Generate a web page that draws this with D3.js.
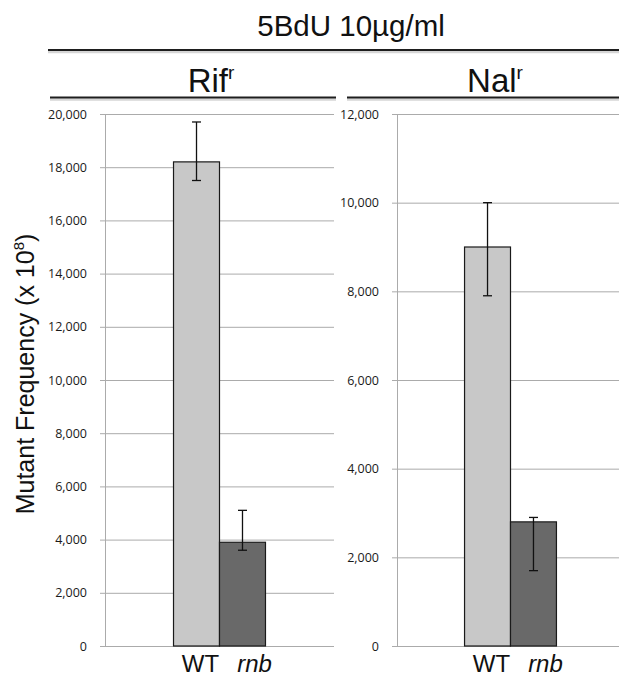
<!DOCTYPE html>
<html>
<head>
<meta charset="utf-8">
<script src="https://cdn.jsdelivr.net/npm/d3@7"></script>
<style>
  html, body { margin: 0; padding: 0; background: #fff; }
  svg { display: block; }
</style>
</head>
<body>
<svg id="chart" width="619" height="676"></svg>
<script>
// ---------- data ----------
const categories = ["WT", "rnb"];
const rifValues = [18200, 3900];
const rifErrLow = [17500, 3600];
const rifErrHigh = [19700, 5100];
const nalValues = [9000, 2800];
const nalErrLow = [7900, 1700];
const nalErrHigh = [10000, 2900];
const rifTicks = [0, 2000, 4000, 6000, 8000, 10000, 12000, 14000, 16000, 18000, 20000];
const nalTicks = [0, 2000, 4000, 6000, 8000, 10000, 12000];

const svg = d3.select("#chart");
const W = 619, H = 676;

const barFill = { WT: "#c8c8c8", rnb: "#696969" };
const gridColor = "#ababab";
const fmt = d3.format(",");

// ---------- headers ----------
svg.append("text")
  .attr("x", 351).attr("y", 36)
  .attr("text-anchor", "middle")
  .attr("font-family", "Liberation Sans, Arial, sans-serif")
  .attr("font-size", 29.5)
  .attr("fill", "#111")
  .text("5BdU 10µg/ml");

// header rule with a soft shadow underneath
const rule = (x1, x2, y) => {
  svg.append("line")
    .attr("x1", x1).attr("x2", x2).attr("y1", y + 2).attr("y2", y + 2)
    .attr("stroke", "#d6d6d6").attr("stroke-width", 2.5);
  svg.append("line")
    .attr("x1", x1).attr("x2", x2).attr("y1", y).attr("y2", y)
    .attr("stroke", "#1e1e1e").attr("stroke-width", 2);
};

rule(48, 619, 50);
rule(50, 336, 97.5);
rule(347, 619, 97.5);

// ---------- y-axis title ----------
const yt = svg.append("text")
  .attr("transform", "translate(34,374) rotate(-90)")
  .attr("text-anchor", "middle")
  .attr("font-family", "Liberation Sans, Arial, sans-serif")
  .attr("font-size", 25)
  .attr("fill", "#111");
yt.append("tspan").text("Mutant Frequency (x 10");
yt.append("tspan").attr("font-size", 15).attr("dy", -10).text("8");
yt.append("tspan").attr("dy", 10).text(")");

// ---------- panels ----------
const panels = [
  { name: "Rif", values: rifValues, lo: rifErrLow, hi: rifErrHigh, ticks: rifTicks,
    x0: 105, x1: 334, pad: 1.49, titleX: 211 },
  { name: "Nal", values: nalValues, lo: nalErrLow, hi: nalErrHigh, ticks: nalTicks,
    x0: 397, x1: 624, pad: 1.47, titleX: 495 }
];

const yTop = 114, yBottom = 646;

panels.forEach(p => {
  const g = svg.append("g");

  // panel header  (name + superscript r)
  const t = g.append("text")
    .attr("x", p.titleX).attr("y", 91.5)
    .attr("text-anchor", "middle")
    .attr("font-family", "Liberation Sans, Arial, sans-serif")
    .attr("font-size", 33)
    .attr("fill", "#111");
  t.append("tspan").text(p.name);
  t.append("tspan").attr("font-size", 19).attr("dy", -13).text("r");

  const y = d3.scaleLinear()
    .domain([0, d3.max(p.ticks)])
    .range([yBottom, yTop]);

  const x = d3.scaleBand()
    .domain(categories)
    .range([p.x0, p.x1])
    .paddingInner(0)
    .paddingOuter(p.pad);

  // gridlines
  g.selectAll("line.grid")
    .data(p.ticks)
    .join("line")
    .attr("class", "grid")
    .attr("x1", p.x0 - 5).attr("x2", Math.min(p.x1, W))
    .attr("y1", d => y(d) + 0.5).attr("y2", d => y(d) + 0.5)
    .attr("stroke", gridColor).attr("stroke-width", 1);

  // axis line
  g.append("line")
    .attr("x1", p.x0 + 0.5).attr("x2", p.x0 + 0.5)
    .attr("y1", yTop).attr("y2", yBottom + 0.5)
    .attr("stroke", gridColor).attr("stroke-width", 1);

  // tick labels
  g.selectAll("text.tick")
    .data(p.ticks)
    .join("text")
    .attr("class", "tick")
    .attr("x", p.x0 - 18)
    .attr("y", d => y(d) + 4.5)
    .attr("text-anchor", "end")
    .attr("font-family", "Open Sans, sans-serif")
    .attr("font-size", 12.5)
    .attr("fill", "#1a1a1a")
    .text(d => fmt(d));

  // bars
  g.selectAll("rect.bar")
    .data(categories)
    .join("rect")
    .attr("class", "bar")
    .attr("x", d => x(d))
    .attr("width", x.bandwidth())
    .attr("y", (d, i) => y(p.values[i]))
    .attr("height", (d, i) => yBottom - y(p.values[i]))
    .attr("fill", d => barFill[d])
    .attr("stroke", "#1a1a1a")
    .attr("stroke-width", 1.2);

  // error bars
  const cx = d => x(d) + x.bandwidth() / 2;
  const eb = g.selectAll("g.err")
    .data(categories)
    .join("g")
    .attr("class", "err")
    .attr("stroke", "#111")
    .attr("stroke-width", 1.3);
  eb.append("line")
    .attr("x1", cx).attr("x2", cx)
    .attr("y1", (d, i) => y(p.hi[i])).attr("y2", (d, i) => y(p.lo[i]));
  eb.append("line")
    .attr("x1", d => cx(d) - 4.5).attr("x2", d => cx(d) + 4.5)
    .attr("y1", (d, i) => y(p.hi[i])).attr("y2", (d, i) => y(p.hi[i]));
  eb.append("line")
    .attr("x1", d => cx(d) - 4.5).attr("x2", d => cx(d) + 4.5)
    .attr("y1", (d, i) => y(p.lo[i])).attr("y2", (d, i) => y(p.lo[i]));

  // category labels
  g.selectAll("text.cat")
    .data(categories)
    .join("text")
    .attr("class", "cat")
    .attr("x", d => cx(d) + (d === "WT" ? 4 : 12))
    .attr("y", 672)
    .attr("text-anchor", "middle")
    .attr("font-family", "Liberation Sans, Arial, sans-serif")
    .attr("font-size", 24)
    .attr("font-style", d => d === "rnb" ? "italic" : "normal")
    .attr("fill", "#111")
    .text(d => d);
});
</script>
</body>
</html>
